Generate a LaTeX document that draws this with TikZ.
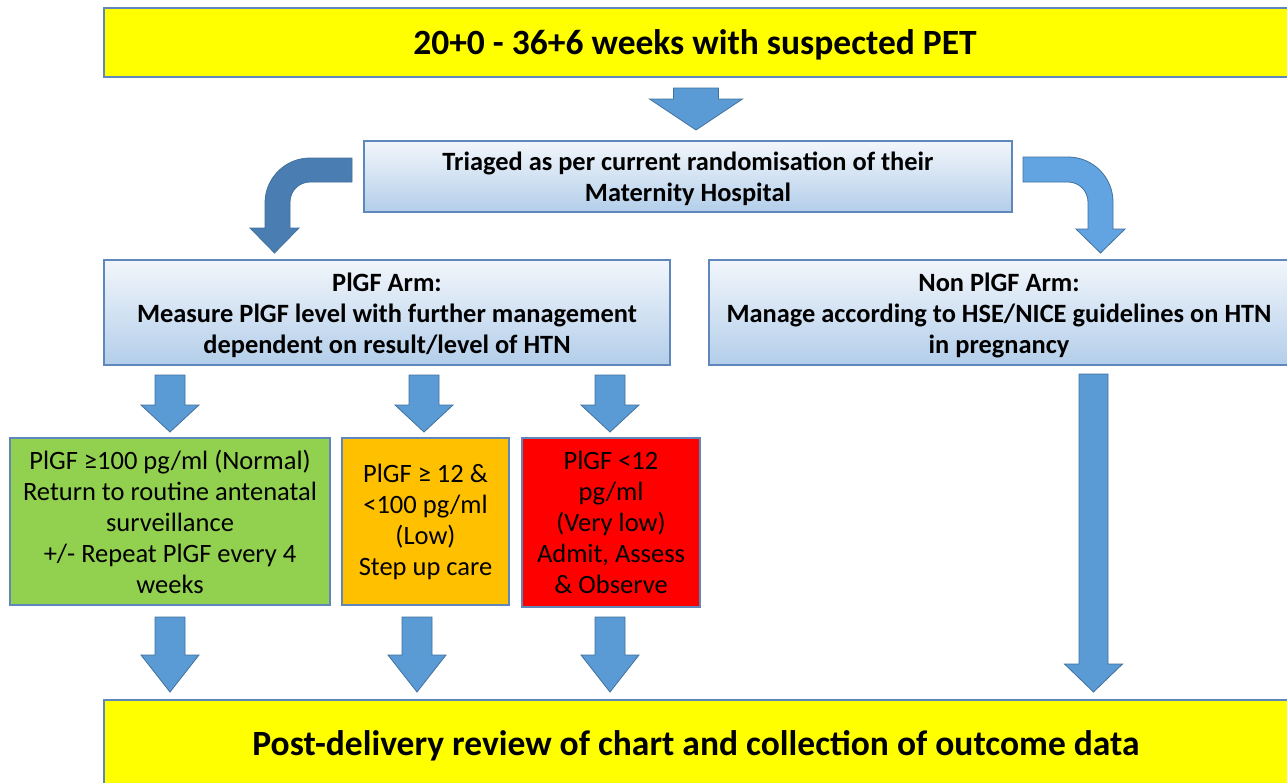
\documentclass[tikz,border=0pt]{standalone}
\usepackage{fontspec}
\setmainfont{Carlito}
\definecolor{yel}{HTML}{FFFF00}
\definecolor{boxline}{HTML}{5F87BC}
\definecolor{gtop}{HTML}{F2F6FB}
\definecolor{gbot}{HTML}{B3CEEA}
\definecolor{arrfill}{HTML}{5B9BD5}
\definecolor{arrdark}{HTML}{4A7DB2}
\definecolor{arrlight}{HTML}{62A4E2}
\definecolor{arrline}{HTML}{41719C}
\definecolor{grn}{HTML}{92D050}
\definecolor{org}{HTML}{FFC000}
\definecolor{rd}{HTML}{FF0000}
\tikzset{
  base/.style={draw=boxline, line width=1.5pt, align=center, inner sep=0pt},
  yelbox/.style={base, fill=yel},
  bigtext/.style={font=\bfseries\fontsize{35.5}{42}\selectfont},
  gradbox/.style={base, top color=gtop, bottom color=gbot},
  boldtext/.style={align=center, inner sep=0pt, font=\bfseries\fontsize{26.4}{31}\selectfont},
  colbox/.style={base, font=\fontsize{26.5}{31}\selectfont},
  blockarr/.style={fill=arrfill, draw=arrline, line width=0.8pt},
}
\newcommand{\barrow}[6]{%
  \filldraw[blockarr] ({#1-#5},#2) -- ({#1+#5},#2) -- ({#1+#5},#3) -- ({#1+#6},#3) -- (#1,#4) -- ({#1-#6},#3) -- ({#1-#5},#3) -- cycle;}
\begin{document}
\begin{tikzpicture}[x=1pt,y=-1pt]
\clip (0,0) rectangle (1287,782);
\fill[white] (0,0) rectangle (1287,782);
% boxes
\node[yelbox, minimum width=1187pt, minimum height=69pt] (top) at (697.5,42.5) {};
\node[bigtext] (toptext) at (695,45) {20+0 - 36+6 weeks with suspected PET};
\node[gradbox, minimum width=648pt, minimum height=71pt] (triage) at (688,176.5) {};
\node[boldtext] (triagetext) at (688,179) {Triaged as per current randomisation of their\\Maternity Hospital};
\node[gradbox, minimum width=566pt, minimum height=105pt] (arm) at (387,312.5) {};
\node[boldtext] (armtext) at (387,315) {PlGF Arm:\\Measure PlGF level with further management\\dependent on result/level of HTN};
\node[gradbox, minimum width=582pt, minimum height=105pt] (non) at (1000,312.5) {};
\node[boldtext] (nontext) at (999,315) {Non PlGF Arm:\\Manage according to HSE/NICE guidelines on HTN\\in pregnancy};
\node[colbox, fill=grn, minimum width=320pt, minimum height=167pt] (green) at (170,521.5) {PlGF ≥100 pg/ml (Normal)\\Return to routine antenatal\\surveillance\\+/- Repeat PlGF every 4\\weeks};
\node[colbox, fill=org, minimum width=167pt, minimum height=167pt] (orange) at (425.5,521.5) {PlGF ≥ 12 \&\\<100 pg/ml\\(Low)\\Step up care};
\node[colbox, fill=rd, minimum width=178pt, minimum height=169pt] (red) at (611,522.5) {PlGF <12\\pg/ml\\(Very low)\\Admit, Assess\\\& Observe};
\node[yelbox, minimum width=1187pt, minimum height=90pt] (bottom) at (697.5,745) {};
\node[bigtext] (btext) at (696,746) {Post-delivery review of chart and collection of outcome data};
% straight block arrows
\barrow{696}{88}{99}{130}{22.5}{46.5}
\barrow{170}{375}{405}{432}{15}{29}
\barrow{424}{375}{405}{432}{15}{29}
\barrow{610}{375}{405}{432}{15}{29}
\barrow{170}{617}{655}{692}{15}{29}
\barrow{417}{617}{655}{692}{15}{29}
\barrow{610}{617}{655}{692}{15}{29}
\barrow{1093.5}{374}{664}{692}{14.5}{29}
% bent arrows
\filldraw[blockarr, fill=arrdark] (352,158) -- (310,158) arc[start angle=270, end angle=180, radius=45] -- (265,228) -- (250,228) -- (274.5,253) -- (299,228) -- (290,228) -- (290,202) arc[start angle=180, end angle=270, radius=20] -- (352,182) -- cycle;
\filldraw[blockarr, fill=arrlight] (1023,157) -- (1068,157) arc[start angle=270, end angle=360, radius=45] -- (1113,229) -- (1125,229) -- (1100.5,253) -- (1076,229) -- (1088,229) -- (1088,202) arc[start angle=0, end angle=-90, radius=20] -- (1023,182) -- cycle;
\end{tikzpicture}
\end{document}
